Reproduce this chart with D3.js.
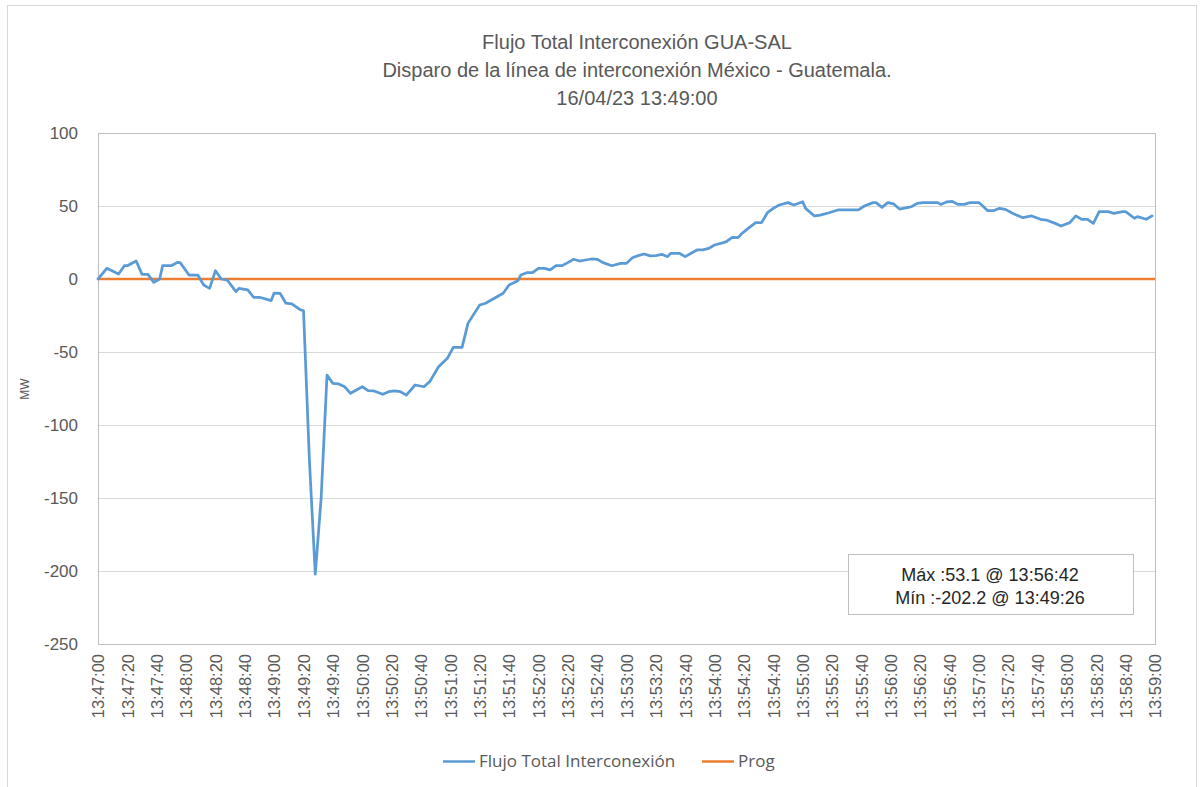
<!DOCTYPE html>
<html>
<head>
<meta charset="utf-8">
<script src="https://cdn.jsdelivr.net/npm/d3@7"></script>
<style>
  html, body { margin: 0; padding: 0; background: #ffffff; }
  svg { display: block; }
</style>
</head>
<body>
<svg id="chart" width="1204" height="787"></svg>
<script>
// ---------------- DATA ----------------
const titleLines = [
  "Flujo Total Interconexión GUA-SAL",
  "Disparo de la línea de interconexión México - Guatemala.",
  "16/04/23 13:49:00"
];
const startTime = "13:47:00";
const endTime = "13:59:00";
// seconds after 13:47:00
const sampleSeconds = [
  0, 6, 14, 18, 20, 26, 30, 34, 38, 42, 44, 50, 54, 56, 62, 68, 72, 76, 80, 84,
  88, 94, 96, 102, 106, 110, 118, 120, 124, 128, 132, 138, 140, 144, 148, 152, 156, 160, 164, 168,
  172, 180, 184, 188, 194, 198, 202, 206, 210, 216, 222, 226, 232, 238, 242, 248, 252, 260, 264, 270,
  276, 280, 286, 288, 292, 296, 300, 304, 308, 312, 316, 320, 324, 328, 332, 336, 340, 344, 350, 356,
  360, 364, 368, 372, 376, 380, 384, 388, 390, 396, 400, 404, 408, 412, 416, 420, 426, 428, 432, 436,
  438, 442, 448, 452, 456, 460, 464, 470, 474, 480, 482, 488, 492, 498, 504, 512, 518, 522, 528, 530,
  534, 538, 542, 546, 552, 554, 558, 562, 572, 574, 578, 582, 586, 590, 594, 600, 602, 606, 610, 614,
  618, 624, 630, 636, 642, 646, 652, 656, 662, 666, 670, 674, 678, 682, 688, 692, 698, 700, 706, 708,
  714, 718
];
const flujoValues = [
  0, 7.3, 3.4, 9.1, 9.1, 12.3, 3.2, 3.2, -2.3, 0, 9.1, 9.1, 11.4, 11.2, 2.7, 2.7, -4.1, -6.4, 5.7, 0,
  -0.7, -8.7, -6.4, -7.5, -12.5, -12.5, -14.8, -9.6, -9.8, -16.6, -17.1, -21.2, -21.7, -124, -202.2, -150, -65.8, -71.5, -71.9, -73.8,
  -78.3, -73.8, -76.5, -76.7, -79, -77.2, -76.7, -77.2, -79.5, -72.6, -73.8, -70.3, -60.1, -54.3, -46.8, -46.8, -30.4, -17.8, -16.6, -13.2,
  -9.8, -4.1, -1.2, 2.7, 4.3, 4.3, 7.3, 7.3, 6.2, 9.1, 9.1, 11.2, 13.5, 12.3, 13, 13.7, 13.5, 11.2, 9.1, 10.7,
  10.7, 14.6, 16, 17.1, 15.8, 16, 16.9, 15.3, 17.6, 17.6, 15.3, 17.6, 19.9, 19.9, 21, 23.3, 24.9, 25.6, 28.5, 28.3,
  30.6, 34, 38.6, 38.6, 45.4, 48.4, 50.7, 52.3, 50.7, 52.9, 48.4, 43.2, 43.8, 45.4, 47.3, 47.3, 47.3, 50, 52.3, 52.3,
  49.1, 52.3, 51.4, 47.9, 49.1, 49.5, 51.8, 52.3, 52.3, 51.1, 52.8, 53.1, 51.1, 51.1, 52.3, 52.3, 50.7, 46.8, 46.8, 48.4,
  47.7, 44.5, 42, 43.2, 40.9, 40.4, 38.1, 36.3, 38.6, 43.2, 40.9, 40.9, 38.1, 46.1, 46.1, 45, 46.1, 46.1, 41.6, 42.7,
  40.9, 43.2
];
const progSeconds = [0, 720];
const progValues = [0, 0];
const yTickValues = [100, 50, 0, -50, -100, -150, -200, -250];
const seriesNames = ["Flujo Total Interconexión", "Prog"];
const seriesColors = ["#5b9bd5", "#ed7d31"];
const annotationLines = ["Máx :53.1 @ 13:56:42", "Mín :-202.2 @ 13:49:26"];
const yAxisTitle = "MW";

// ---------------- CHART ----------------
const svg = d3.select("#chart");
const textColor = "#595959";
const fontFamily = "'Liberation Sans', Arial, sans-serif";

// outer chart border
svg.append("rect")
  .attr("x", 7.5).attr("y", 5.5).attr("width", 1189).attr("height", 800)
  .attr("fill", "#ffffff").attr("stroke", "#d9d9d9").attr("stroke-width", 1);

const plot = { left: 98, right: 1155, top: 133, bottom: 644 };
const parseTime = d3.timeParse("%H:%M:%S");
const t0 = parseTime(startTime);
const t1 = parseTime(endTime);
const toDate = s => new Date(t0.getTime() + s * 1000);

const x = d3.scaleTime().domain([t0, t1]).range([plot.left, plot.right]);
const y = d3.scaleLinear().domain([-250, 100]).range([plot.bottom, plot.top]);

// gridlines
svg.append("g")
  .selectAll("line")
  .data(yTickValues)
  .join("line")
  .attr("x1", plot.left).attr("x2", plot.right)
  .attr("y1", d => Math.round(y(d)) + 0.5).attr("y2", d => Math.round(y(d)) + 0.5)
  .attr("stroke", "#d9d9d9").attr("stroke-width", 1);

// plot border
svg.append("rect")
  .attr("x", plot.left + 0.5).attr("y", plot.top + 0.5)
  .attr("width", plot.right - plot.left).attr("height", plot.bottom - plot.top)
  .attr("fill", "none").attr("stroke", "#bfbfbf").attr("stroke-width", 1);

// y axis
const yAxis = d3.axisLeft(y).tickValues(yTickValues).tickSize(0).tickPadding(0).tickFormat(d => String(d));
const yg = svg.append("g").attr("transform", `translate(${plot.left - 20},0)`).call(yAxis);
yg.select(".domain").remove();
yg.selectAll("text")
  .attr("fill", textColor).attr("font-size", "17px").attr("font-family", fontFamily)
  .attr("dy", "0.35em");

// x axis
const xTicks = d3.timeSecond.every(20).range(t0, new Date(t1.getTime() + 1));
const xAxis = d3.axisBottom(x).tickValues(xTicks).tickSize(0).tickPadding(0)
  .tickFormat(d3.timeFormat("%H:%M:%S"));
const xg = svg.append("g").attr("transform", `translate(0,${plot.bottom})`).call(xAxis);
xg.select(".domain").remove();
xg.selectAll("text")
  .attr("fill", textColor).attr("font-size", "16.5px").attr("font-family", fontFamily)
  .attr("text-anchor", "end")
  .attr("transform", "rotate(-90)")
  .attr("x", -10).attr("y", 0).attr("dy", "0.35em");

// lines
const line = d3.line().x(d => x(d.t)).y(d => y(d.v));
const flujoData = sampleSeconds.map((s, i) => ({ t: toDate(s), v: flujoValues[i] }));
const progData = progSeconds.map((s, i) => ({ t: toDate(s), v: progValues[i] }));

svg.append("path").datum(progData)
  .attr("fill", "none").attr("stroke", seriesColors[1]).attr("stroke-width", 2.5)
  .attr("d", line);
svg.append("path").datum(flujoData)
  .attr("fill", "none").attr("stroke", seriesColors[0]).attr("stroke-width", 2.75)
  .attr("stroke-linejoin", "round").attr("stroke-linecap", "round")
  .attr("d", line);

// title
svg.append("g").selectAll("text").data(titleLines).join("text")
  .attr("x", 637).attr("y", (d, i) => 49 + i * 28)
  .attr("text-anchor", "middle")
  .attr("fill", textColor).attr("font-size", "20px").attr("font-family", fontFamily)
  .text(d => d);

// y axis title
svg.append("text")
  .attr("transform", "translate(29,389) rotate(-90)")
  .attr("text-anchor", "middle")
  .attr("fill", textColor).attr("font-size", "12px").attr("font-family", fontFamily)
  .text(yAxisTitle);

// annotation box
svg.append("rect")
  .attr("x", 848.5).attr("y", 554.5).attr("width", 285).attr("height", 60)
  .attr("fill", "#ffffff").attr("stroke", "#bfbfbf").attr("stroke-width", 1);
svg.append("g").selectAll("text").data(annotationLines).join("text")
  .attr("x", 990).attr("y", (d, i) => 581 + i * 23)
  .attr("text-anchor", "middle")
  .attr("fill", "#262626").attr("font-size", "18px").attr("font-family", fontFamily)
  .text(d => d);

// legend
const legendItems = [
  { name: seriesNames[0], color: seriesColors[0], x: 443 },
  { name: seriesNames[1], color: seriesColors[1], x: 702 }
];
const lg = svg.append("g");
legendItems.forEach(item => {
  lg.append("line")
    .attr("x1", item.x).attr("x2", item.x + 32)
    .attr("y1", 761.5).attr("y2", 761.5)
    .attr("stroke", item.color).attr("stroke-width", 2.5);
  lg.append("text")
    .attr("x", item.x + 36).attr("y", 761)
    .attr("dy", "0.35em")
    .attr("fill", textColor).attr("font-size", "17px").attr("font-family", "'Open Sans', sans-serif")
    .text(item.name);
});
</script>
</body>
</html>
